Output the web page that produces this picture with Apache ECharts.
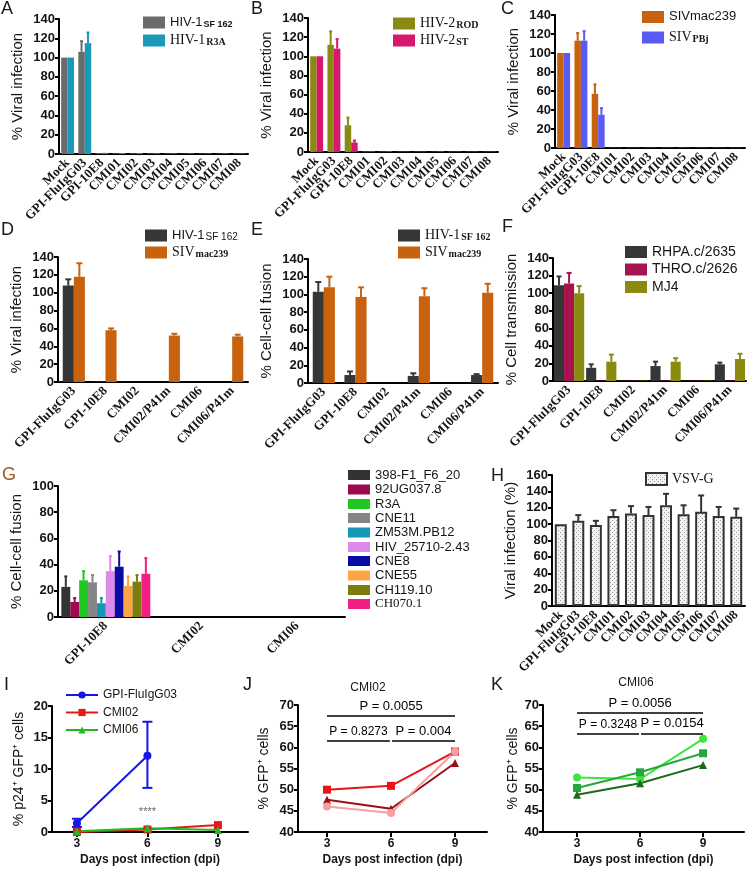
<!DOCTYPE html>
<html><head><meta charset="utf-8">
<script src="https://cdn.jsdelivr.net/npm/echarts@6/dist/echarts.min.js"></script>
<style>html,body{margin:0;padding:0;background:#fff}#c{width:750px;height:871px}</style>
</head><body><div id="c"></div>
<script>
// ================= DATA =================
const catsViral = ['Mock','GPI-FluIgG03','GPI-10E8','CMI01','CMI02','CMI03','CMI04','CMI05','CMI06','CMI07','CMI08'];
const catsPair  = ['GPI-FluIgG03','GPI-10E8','CMI02','CMI02/P41m','CMI06','CMI06/P41m'];
const catsG     = ['GPI-10E8','CMI02','CMI06'];
const days      = [3, 6, 9];

// A
const A_hiv1SF162     = [100,106,0.8,0.6,0.6,0.5,0.5,0.4,0.4,0.4,0.4];
const A_hiv1SF162_err = [null,117,null,null,null,null,null,null,null,null,null];
const A_hiv1R3A       = [100,115,1.2,1,1,0.8,0.7,0.6,0.6,0.6,0.6];
const A_hiv1R3A_err   = [null,126,null,null,null,null,null,null,null,null,null];
// B
const B_hiv2ROD     = [100,112,28,0.4,0.4,0.3,0.3,0.3,0.3,0.3,0.3];
const B_hiv2ROD_err = [null,126,36,null,null,null,null,null,null,null,null];
const B_hiv2ST      = [100,108,10,0.8,0.8,0.5,0.5,0.7,0.5,0.5,0.5];
const B_hiv2ST_err  = [null,118,12,null,null,null,null,null,null,null,null];
// C
const C_sivmac239     = [100,113,57,0.3,0.3,0.3,0.3,0.4,0.3,0.3,0.3];
const C_sivmac239_err = [null,121,67,null,null,null,null,null,null,null,null];
const C_sivPBj        = [100,113,35,0.3,0.3,0.3,0.3,0.3,0.3,0.3,0.3];
const C_sivPBj_err    = [null,123,42,null,null,null,null,null,null,null,null];
// D
const D_hiv1     = [108,0.5,0,0,0,0];
const D_hiv1_err = [115,null,null,null,null,null];
const D_siv      = [118,58,0,52,0,51];
const D_siv_err  = [133,60,null,54,null,53];
// E
const E_hiv1     = [103,9,0,8,0,9];
const E_hiv1_err = [114,13,null,11,null,10];
const E_siv      = [108,97,0,98,0,102];
const E_siv_err  = [120,108,null,107,null,112];
// F
const F_rhpa     = [109,15,0.4,17,0.4,19];
const F_rhpa_err = [119,19,null,22,null,21];
const F_thro     = [111,0.5,0.4,0.5,0.4,0.5];
const F_thro_err = [123,null,null,null,null,null];
const F_mj4      = [100,22,0.4,22,0.4,25];
const F_mj4_err  = [108,30,null,26,null,31];
// G (values at GPI-10E8, CMI02, CMI06)
const G_names = ['398-F1_F6_20','92UG037.8','R3A','CNE11','ZM53M.PB12','HIV_25710-2.43','CNE8','CNE55','CH119.10','CH070.1'];
const G_vals  = [[23,0,0],[11.5,0,0],[28,0,0],[26.5,0,0],[10.5,0,0],[35,0,0],[38.4,0,0],[23.7,0,0],[27,0,0],[33,0,0]];
const G_errs  = [[31,null,null],[14.5,null,null],[35,null,null],[32,null,null],[14.5,null,null],[46.5,null,null],[50,null,null],[31,null,null],[32,null,null],[45,null,null]];
// H
const H_vsv     = [100,104,99,110,113,111,123,112,115,110,109];
const H_vsv_err = [null,111,104,117,122,121,137,123,135,121,119];
// I
const I_flu      = [1.4,12.1,null];
const I_flu_err  = [[0.8,2.1],[7.0,17.5],null];
const I_cmi02    = [0,0.4,1.1];
const I_cmi06    = [0.1,0.6,0.3];
// J (CMI02 donors)
const J_sq  = [50,50.9,59];
const J_tri = [47.6,45.5,56.3];
const J_cir = [46,44.5,59];
const J_p   = [['P = 0.0055',3,9,67.5],['P = 0.8273',3,5.95,61.6],['P = 0.004',6.05,9,61.6]];
// K (CMI06 donors)
const K_cir = [52.9,52.5,62];
const K_sq  = [50.4,54.1,58.6];
const K_tri = [48.8,51.5,55.8];
const K_p   = [['P = 0.0056',3,9,68.2],['P = 0.3248',3,5.95,63.3],['P = 0.0154',6.05,9,63.3]];

// ================= STYLE / LAYOUT =================
const SANS = '"Liberation Sans", Arial, sans-serif';
const SERIF = '"Liberation Serif", "Times New Roman", serif';
const grids = [
  {left:59, top:19, width:189, height:135},   // A 0
  {left:308, top:18, width:190, height:134},  // B 1
  {left:555, top:15, width:190, height:133},  // C 2
  {left:58, top:257, width:190, height:125},  // D 3
  {left:308, top:259, width:190, height:124}, // E 4
  {left:553, top:258, width:193, height:123}, // F 5
  {left:58, top:486, width:287, height:131},  // G 6
  {left:552, top:475, width:193, height:131}, // H 7
  {left:52, top:706, width:196, height:126},  // I 8
  {left:298, top:705, width:189, height:127}, // J 9
  {left:543, top:705, width:201, height:127}  // K 10
];
const axLine = {show:true, onZero:false, lineStyle:{color:'#000', width:2}};
const xAxes = [], yAxes = [], series = [], legends = [];

function catX(gi, cats){
  xAxes.push({type:'category', gridIndex:gi, data:cats, axisLine:axLine,
    axisTick:{alignWithLabel:true, length:5, lineStyle:{width:2,color:'#000'}},
    axisLabel:{rotate:45, interval:0, fontFamily:SERIF, fontWeight:'bold', fontSize:13, color:'#151515', margin:7},
    splitLine:{show:false}});
}
function valY(gi, min, max, interval, name, gap, nameSize){
  yAxes.push({type:'value', gridIndex:gi, min, max, interval, axisLine:axLine,
    axisTick:{show:true, length:4, lineStyle:{width:2,color:'#000'}},
    axisLabel:{fontFamily:SANS, fontWeight:'bold', fontSize:13, color:'#151515', margin:4},
    splitLine:{show:false}, name, nameLocation:'middle', nameGap:gap,
    nameTextStyle:{fontFamily:SANS, fontSize:nameSize||15, color:'#151515'}});
}
function valX(gi, min, max){
  xAxes.push({type:'value', gridIndex:gi, min, max, axisLine:axLine,
    axisTick:{show:true, length:5, lineStyle:{width:2,color:'#000'}, customValues:days},
    axisLabel:{fontFamily:SANS, fontWeight:'bold', fontSize:12, color:'#151515', margin:6, customValues:days},
    splitLine:{show:false}, name:'Days post infection (dpi)', nameLocation:'middle', nameGap:22,
    nameTextStyle:{fontFamily:SANS, fontWeight:'bold', fontSize:12, color:'#151515'}});
}
function errSeries(gi, color, vals, errs, idx, n, gap, cap){
  const data = [];
  vals.forEach((v,i)=>{ if(errs[i]!=null) data.push([i, v, errs[i]]); });
  return {type:'custom', xAxisIndex:gi, yAxisIndex:gi, data, z:3, silent:true,
    renderItem:(p,api)=>{
      const c = api.coord([api.value(0), api.value(1)]);
      const t = api.coord([api.value(0), api.value(2)]);
      const band = api.size([1,0])[0];
      const gw = band*(1-gap), bw = gw/n;
      const x = c[0] - gw/2 + bw*(idx+0.5);
      return {type:'group', children:[
        {type:'line', shape:{x1:x,y1:c[1],x2:x,y2:t[1]}, style:{stroke:color,lineWidth:2}},
        {type:'line', shape:{x1:x-cap,y1:t[1],x2:x+cap,y2:t[1]}, style:{stroke:color,lineWidth:2}}
      ]};
    }};
}
function barPanel(gi, list, gap, cap){
  list.forEach((s,i)=>{
    series.push({type:'bar', name:s.name, xAxisIndex:gi, yAxisIndex:gi, data:s.data,
      itemStyle:Object.assign({color:s.color}, s.item||{}), barGap:'0%', barCategoryGap:(gap*100)+'%',
      emphasis:{disabled:true}, silent:true});
    if(s.err) series.push(errSeries(gi, s.errColor||s.color, s.data, s.err, i, list.length, gap, cap));
  });
}

const LABELS = {
  A1:'{s|HIV-1}{sb|SF 162}', A2:'{r|HIV-1}{rb|R3A}',
  B1:'{r|HIV-2}{rb|ROD}', B2:'{r|HIV-2}{rb|ST}',
  C1:'{s|SIVmac239}', C2:'{r|SIV}{rb|PBj}',
  D1:'{s|HIV-1}{sn|SF 162}', D2:'{r|SIV}{rb|mac239}',
  E1:'{r|HIV-1}{rb|SF 162}', E2:'{r|SIV}{rb|mac239}',
  H1:'{r|VSV-G}'
};
const RICH = {
  s:{fontFamily:SANS, fontSize:13, lineHeight:14, verticalAlign:'top', color:'#151515'},
  r:{fontFamily:SERIF, fontSize:14, lineHeight:14, verticalAlign:'top', color:'#151515'},
  sb:{fontFamily:SANS, fontSize:9, fontWeight:'bold', lineHeight:9, verticalAlign:'bottom', padding:[8,0,0,1], color:'#151515'},
  sn:{fontFamily:SANS, fontSize:10, lineHeight:10, verticalAlign:'bottom', padding:[8,0,0,1], color:'#151515'},
  rb:{fontFamily:SERIF, fontSize:10, fontWeight:'bold', lineHeight:10, verticalAlign:'bottom', padding:[8,0,0,1], color:'#151515'}
};
function leg(name, left, cy, opt){
  opt = opt || {};
  const ih = opt.ih || 12, lh = opt.lh || 14;
  const h = Math.max(ih, lh);
  const l = {data:[{name, icon: opt.icon || 'rect'}], left, top:cy - h/2, orient:'vertical', itemWidth:opt.iw||22, itemHeight:ih,
    padding:0, itemGap:0, selectedMode:false,
    textStyle:Object.assign({fontFamily:SANS, fontSize:13, color:'#151515', lineHeight:lh, rich:RICH}, opt.ts||{})};
  if(opt.icon === 'none') l.data = [name];
  if(LABELS[name]) l.formatter = n => LABELS[n];
  if(opt.itemStyle) l.itemStyle = opt.itemStyle;
  legends.push(l);
}

// ---- A ----
catX(0, catsViral); valY(0, 0, 140, 20, '% Viral infection', 34, 15);
barPanel(0, [{name:'A1', color:'#6b6b6b', data:A_hiv1SF162, err:A_hiv1SF162_err},
             {name:'A2', color:'#1a9ab8', data:A_hiv1R3A, err:A_hiv1R3A_err}], 0.25, 1.5);
leg('A1', 143, 21, {lh:17}); leg('A2', 143, 38, {lh:17});
// ---- B ----
catX(1, catsViral); valY(1, 0, 140, 20, '% Viral infection', 34, 15);
barPanel(1, [{name:'B1', color:'#8a8a12', data:B_hiv2ROD, err:B_hiv2ROD_err},
             {name:'B2', color:'#d8186e', data:B_hiv2ST, err:B_hiv2ST_err}], 0.25, 1.5);
leg('B1', 393, 21, {lh:17}); leg('B2', 393, 38, {lh:17});
// ---- C ----
catX(2, catsViral); valY(2, 0, 140, 20, '% Viral infection', 34, 15);
barPanel(2, [{name:'C1', color:'#c8620e', data:C_sivmac239, err:C_sivmac239_err},
             {name:'C2', color:'#5a5af5', data:C_sivPBj, err:C_sivPBj_err}], 0.25, 1.5);
leg('C1', 642, 17); leg('C2', 642, 35, {lh:17});
// ---- D ----
catX(3, catsPair); valY(3, 0, 140, 20, '% Viral infection', 34, 15);
barPanel(3, [{name:'D1', color:'#363636', data:D_hiv1, err:D_hiv1_err},
             {name:'D2', color:'#c8620e', data:D_siv, err:D_siv_err}], 0.3, 3);
leg('D1', 145, 233, {lh:17}); leg('D2', 145, 250, {lh:17});
// ---- E ----
catX(4, catsPair); valY(4, 0, 140, 20, '% Cell-cell fusion', 34, 15);
barPanel(4, [{name:'E1', color:'#363636', data:E_hiv1, err:E_hiv1_err},
             {name:'E2', color:'#c8620e', data:E_siv, err:E_siv_err}], 0.3, 3);
leg('E1', 398, 233, {lh:17}); leg('E2', 398, 250, {lh:17});
// ---- F ----
catX(5, catsPair); valY(5, 0, 140, 20, '% Cell transmission', 34, 15);
barPanel(5, [{name:'RHPA.c/2635', color:'#363636', data:F_rhpa, err:F_rhpa_err},
             {name:'THRO.c/2626', color:'#a8124e', data:F_thro, err:F_thro_err},
             {name:'MJ4', color:'#8a8a10', data:F_mj4, err:F_mj4_err}], 0.06, 2.5);
leg('RHPA.c/2635', 625, 252, {ts:{fontSize:14}}); leg('THRO.c/2626', 625, 269.5, {ts:{fontSize:14}}); leg('MJ4', 625, 287, {ts:{fontSize:14}});
// ---- G ----
catX(6, catsG); valY(6, 0, 100, 20, '% Cell-cell fusion', 34, 15);
const G_colors = ['#333333','#9b0a4f','#1fc81f','#858585','#1498b4','#dd8ae8','#0a0aa5','#ffa445','#7c7c10','#f21e84'];
barPanel(6, G_names.map((n,i)=>({name:n, color:G_colors[i], data:G_vals[i], err:G_errs[i]})), 0.07, 1.5);
const G_cy = [475,489.5,504,518,532.5,547,561,575.5,590,604];
G_names.forEach((n,i)=>leg(n, 348, G_cy[i], {ih:10, lh:14, ts: n==='CH070.1'?{fontFamily:SERIF, fontSize:13}:{fontSize:13}}));
// ---- H ----
const pc = document.createElement('canvas'); pc.width = 4; pc.height = 4;
const pctx = pc.getContext('2d'); pctx.fillStyle = '#f3f3f3'; pctx.fillRect(0,0,4,4);
pctx.fillStyle = '#9a9a9a'; pctx.fillRect(0,0,1,1); pctx.fillRect(2,2,1,1);
catX(7, catsViral); valY(7, 0, 160, 20, 'Viral infection (%)', 34, 15);
barPanel(7, [{name:'H1', color:{image:pc, repeat:'repeat'}, item:{borderColor:'#333', borderWidth:2},
              data:H_vsv, err:H_vsv_err, errColor:'#333'}], 0.32, 3);
leg('H1', 645, 479, {iw:21, ih:12, itemStyle:{borderColor:'#333', borderWidth:2}});
// ---- I ----
valX(8, 1.94, 10.28); valY(8, 0, 20, 5, '% p24\u207A GFP\u207A cells', 26, 14);
series.push({type:'line', name:'GPI-FluIgG03', xAxisIndex:8, yAxisIndex:8, data:days.map((d,i)=>[d,I_flu[i]]),
  symbol:'circle', symbolSize:8, lineStyle:{width:2, color:'#1616e8'}, itemStyle:{color:'#1616e8'}, z:4});
series.push({type:'custom', xAxisIndex:8, yAxisIndex:8, silent:true, z:3,
  data:days.map((d,i)=>I_flu_err[i]?[d,I_flu_err[i][0],I_flu_err[i][1]]:null).filter(Boolean),
  renderItem:(p,api)=>{
    const lo = api.coord([api.value(0), api.value(1)]), hi = api.coord([api.value(0), api.value(2)]);
    const st = {stroke:'#1616e8', lineWidth:2}, cw = 5;
    return {type:'group', children:[
      {type:'line', shape:{x1:lo[0],y1:lo[1],x2:hi[0],y2:hi[1]}, style:st},
      {type:'line', shape:{x1:lo[0]-cw,y1:lo[1],x2:lo[0]+cw,y2:lo[1]}, style:st},
      {type:'line', shape:{x1:hi[0]-cw,y1:hi[1],x2:hi[0]+cw,y2:hi[1]}, style:st}]};
  }});
series.push({type:'line', name:'CMI02', xAxisIndex:8, yAxisIndex:8, data:days.map((d,i)=>[d,I_cmi02[i]]),
  symbol:'rect', symbolSize:8, lineStyle:{width:2, color:'#e61919'}, itemStyle:{color:'#e61919'}, z:4,
  markPoint:{silent:true, symbol:'circle', symbolSize:1, itemStyle:{color:'rgba(0,0,0,0)'},
    label:{show:true, formatter:'****', color:'#666', fontFamily:SANS, fontSize:11, position:'inside'},
    data:[{coord:[6, 3.2]}]}});
series.push({type:'line', name:'CMI06', xAxisIndex:8, yAxisIndex:8, data:days.map((d,i)=>[d,I_cmi06[i]]),
  symbol:'triangle', symbolSize:8, lineStyle:{width:2, color:'#22b922'}, itemStyle:{color:'#22b922'}, z:4});
['GPI-FluIgG03','CMI02','CMI06'].forEach((n,i)=>leg(n, 65, [695,712.5,730][i], {icon:'none', iw:32, ih:9, ts:{fontSize:12}}));
// ---- J ----
function pLines(list){
  return {symbol:'none', silent:true, animation:false,
    lineStyle:{color:'#000', width:1.5, type:'solid'},
    label:{show:true, position:'insideMiddleTop', formatter:'{b}', color:'#000', fontFamily:SANS, fontSize:13, distance:3},
    data:list.map((p,i)=>[{name:p[0], coord:[p[1],p[3]], label: i===1?{fontSize:12}:{}},{coord:[p[2],p[3]]}])};
}
valX(9, 1.64, 10.5); valY(9, 40, 70, 5, '% GFP\u207A cells', 27, 14);
series.push({type:'line', name:'J1', xAxisIndex:9, yAxisIndex:9, data:days.map((d,i)=>[d,J_sq[i]]),
  symbol:'rect', symbolSize:8, lineStyle:{width:2,color:'#e8141c'}, itemStyle:{color:'#e8141c'}, markLine:pLines(J_p)});
series.push({type:'line', name:'J2', xAxisIndex:9, yAxisIndex:9, data:days.map((d,i)=>[d,J_tri[i]]),
  symbol:'triangle', symbolSize:8, lineStyle:{width:2,color:'#9a0f12'}, itemStyle:{color:'#9a0f12'}});
series.push({type:'line', name:'J3', xAxisIndex:9, yAxisIndex:9, data:days.map((d,i)=>[d,J_cir[i]]),
  symbol:'circle', symbolSize:8, lineStyle:{width:2,color:'#f4a0a0'}, itemStyle:{color:'#f4a0a0'}});
// ---- K ----
valX(10, 1.38, 10.95); valY(10, 40, 70, 5, '% GFP\u207A cells', 22, 14);
series.push({type:'line', name:'K1', xAxisIndex:10, yAxisIndex:10, data:days.map((d,i)=>[d,K_cir[i]]),
  symbol:'circle', symbolSize:8, lineStyle:{width:2,color:'#3de63d'}, itemStyle:{color:'#3de63d'}, markLine:pLines(K_p)});
series.push({type:'line', name:'K2', xAxisIndex:10, yAxisIndex:10, data:days.map((d,i)=>[d,K_sq[i]]),
  symbol:'rect', symbolSize:8, lineStyle:{width:2,color:'#25a83a'}, itemStyle:{color:'#25a83a'}});
series.push({type:'line', name:'K3', xAxisIndex:10, yAxisIndex:10, data:days.map((d,i)=>[d,K_tri[i]]),
  symbol:'triangle', symbolSize:8, lineStyle:{width:2,color:'#1b6a1b'}, itemStyle:{color:'#1b6a1b'}});

// ---- panel letters & titles ----
const letters = [['A',1,0],['B',251,0],['C',501,0],['D',1,221],['E',251,221],['F',502,218],['G',2,466],['H',491,467],['I',4,676],['J',243,676],['K',491,676]];
const graphic = letters.map(l=>({type:'text', left:l[1], top:l[2], silent:true,
  style:{text:l[0], fontFamily:SANS, fontSize:18, fill: l[0]==='G'?'#9a5a22':'#1a1a1a'}}));
graphic.push({type:'text', x:368, y:688, silent:true, style:{text:'CMI02', fontFamily:SANS, fontSize:12, fill:'#151515', align:'center', verticalAlign:'middle'}});
graphic.push({type:'text', x:636, y:683, silent:true, style:{text:'CMI06', fontFamily:SANS, fontSize:12, fill:'#151515', align:'center', verticalAlign:'middle'}});

const chart = echarts.init(document.getElementById('c'), null, {renderer:'canvas'});
chart.setOption({backgroundColor:'#fff', animation:false, grid:grids, xAxis:xAxes, yAxis:yAxes,
  series, legend:legends, graphic});
</script></body></html>
